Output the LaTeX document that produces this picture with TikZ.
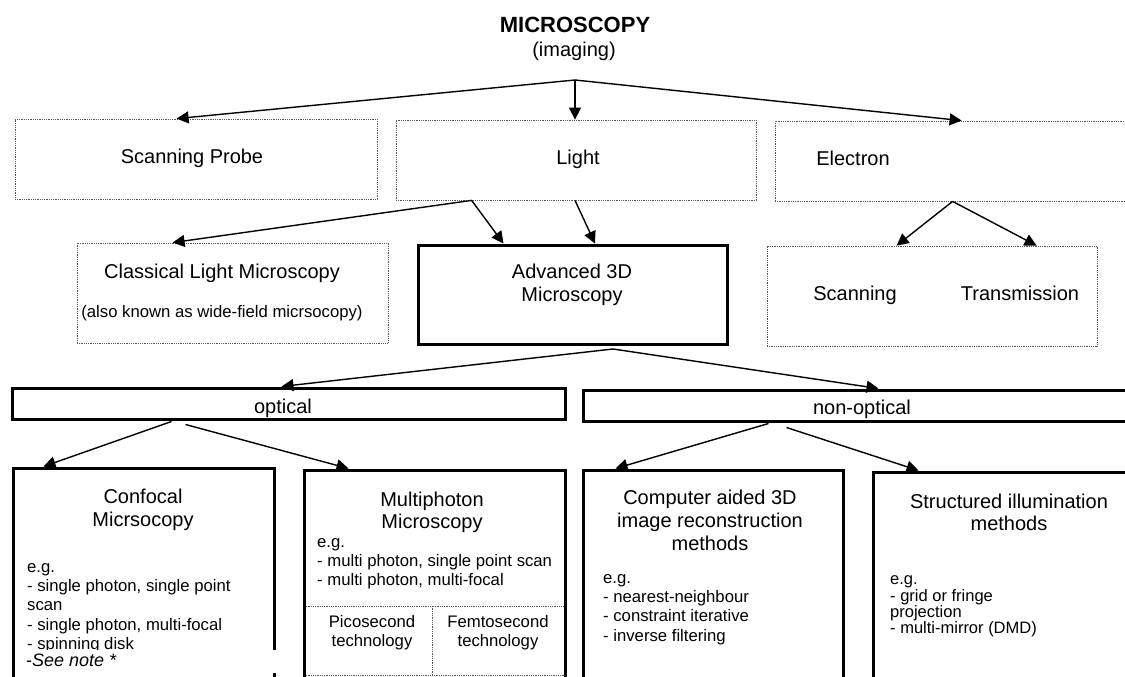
\documentclass[tikz,border=0pt]{standalone}
\usepackage{fontspec}
\setmainfont{Liberation Sans}
\usetikzlibrary{arrows.meta}
\tikzset{
  thinbox/.style={draw=black!65, line width=0.8pt, dash pattern=on 1pt off 0.8pt, inner sep=0pt},
  thickbox/.style={draw=black, line width=3pt, inner sep=0pt},
  arr/.style={line width=1.4pt, -{Triangle[length=12pt,width=12pt]}},
  big/.style={font=\fontsize{20}{23}\selectfont, inner sep=0pt, anchor=base},
  smalltxt/.style={font=\fontsize{16.7}{19.4}\selectfont, inner sep=0pt, anchor=base},
  lst/.style={font=\fontsize{16.7}{19.4}\selectfont, inner sep=0pt, align=left, anchor=north west},
  ttl/.style={font=\fontsize{20}{23}\selectfont, inner sep=0pt, align=center, anchor=north},
}
\begin{document}
\begin{tikzpicture}[x=1pt,y=-1pt]
\clip (0,0) rectangle (1125,677);
\fill[white] (0,0) rectangle (1125,677);

% title
\node[font=\fontsize{22}{26}\selectfont\bfseries, inner sep=0pt, anchor=base] (title) at (575,33) {MICROSCOPY};
\node[big] (imag) at (574,57) {(imaging)};

% row 1
\node[thinbox, minimum width=362pt, minimum height=80pt] (sp) at (196,159) {};
\node[thinbox, minimum width=360pt, minimum height=80pt] (light) at (576,160) {};
\node[thinbox, minimum width=365pt, minimum height=80pt] (elec) at (957.5,161) {};
\node[big] (spt) at (192,163) {Scanning Probe};
\node[big] (lightt) at (578,164) {Light};
\node[big] (elect) at (853,165) {Electron};

% row 2
\node[thinbox, minimum width=311pt, minimum height=100pt] (clas) at (232.5,293) {};
\node[thickbox, minimum width=309pt, minimum height=99pt] (adv) at (572.5,294.5) {};
\node[thinbox, minimum width=330pt, minimum height=100pt] (sem) at (932,296) {};
\node[big] (clast) at (222,278) {Classical Light Microscopy};
\node[smalltxt] (clas2) at (222,317) {(also known as wide-field micrsocopy)};
\node[ttl] (advt) at (572,261.9) {\strut Advanced 3D\\Microscopy};
\node[big] (scant) at (855,300) {Scanning};
\node[big] (transt) at (1020,300) {Transmission};

% bars
\node[thickbox, minimum width=553pt, minimum height=31pt] (opt) at (288.5,403.5) {};
\node[thickbox, minimum width=557pt, minimum height=31pt] (nonopt) at (861.5,405.5) {};
\node[big] (optt) at (283,413) {optical};
\node[big] (nonoptt) at (862,414) {non-optical};

% bottom row
\node[thinbox, minimum width=128pt, minimum height=69pt] (pico) at (368,640.5) {};
\node[thinbox, minimum width=133pt, minimum height=69pt] (femto) at (498.5,640.5) {};
\node[thickbox, minimum width=261pt, minimum height=232pt] (conf) at (143.5,584) {};
\node[thickbox, minimum width=261pt, minimum height=230pt] (multi) at (434.5,585) {};
\node[thickbox, minimum width=260pt, minimum height=230pt] (comp) at (713,585) {};
\node[thickbox, minimum width=267pt, minimum height=228pt] (struct) at (1006.5,586) {};

\node[ttl] (conft) at (143,486.9) {\strut Confocal\\Micrsocopy};
\node[lst] (confl) at (27,558.4) {\strut e.g.\\- single photon, single point\\scan\\- single photon, multi-focal\\- spinning disk};
\fill[white] (17,650) rectangle (276,673);
\node[font=\fontsize{18}{21}\selectfont, inner sep=0pt, anchor=base west] (note) at (26,666) {-\textit{See note *}};

\node[ttl] (multit) at (432,490.4) {\strut Multiphoton\\[-1pt]Microscopy};
\node[lst] (multil) at (317,533.4) {\strut e.g.\\- multi photon, single point scan\\- multi photon, multi-focal};
\node[lst, align=center, anchor=north, font=\fontsize{16.7}{19}\selectfont] (picot) at (372,613.7) {\strut Picosecond\\technology};
\node[lst, align=center, anchor=north, font=\fontsize{16.7}{19}\selectfont] (femtot) at (498,613.7) {\strut Femtosecond\\technology};

\node[ttl] (compt) at (710,487.9) {\strut Computer aided 3D\\image reconstruction\\methods};
\node[lst] (compl) at (603,569.4) {\strut e.g.\\- nearest-neighbour\\- constraint iterative\\- inverse filtering};

\node[ttl] (structt) at (1009,491.9) {\strut Structured illumination\\[-1pt]methods};
\node[lst, font=\fontsize{16.5}{15.7}\selectfont] (structl) at (890,573) {\strut e.g.\\- grid or fringe\\projection\\- multi-mirror (DMD)};

% connectors
\coordinate (j0) at (575,80);
\draw[arr] (j0) -- ([xshift=162pt]sp.north west);
\draw[arr] (j0) -- (j0 |- light.north);
\draw[arr] (j0) -- ([xshift=187pt]elec.north west);

\coordinate (j1) at ([xshift=76pt]light.south west);
\draw[arr] (j1) -- ([xshift=96pt]clas.north west);
\draw[arr] (j1) -- ([xshift=87pt]adv.north west);
\draw[arr] ([xshift=-1pt]light.south) -- ([xshift=22.5pt]adv.north);

\coordinate (j2) at ([xshift=178pt]elec.south west);
\draw[arr] (j2) -- ([xshift=130pt]sem.north west);
\draw[arr] (j2) -- ([xshift=270pt]sem.north west);

\coordinate (j3) at (613,349);
\draw[arr] (j3) -- ([xshift=271pt]opt.north west);
\draw[arr] (j3) -- ([xshift=297pt]nonopt.north west);

\draw[arr] ([xshift=161pt,yshift=-1pt]opt.south west) -- ([xshift=32pt]conf.north west);
\draw[arr] ([xshift=175pt,yshift=-4pt]opt.south west) -- ([xshift=46pt]multi.north west);
\draw[arr] ([xshift=187pt,yshift=-1pt]nonopt.south west) -- ([xshift=34pt]comp.north west);
\draw[arr] ([xshift=205pt,yshift=-5pt]nonopt.south west) -- ([xshift=47pt]struct.north west);
\end{tikzpicture}
\end{document}
